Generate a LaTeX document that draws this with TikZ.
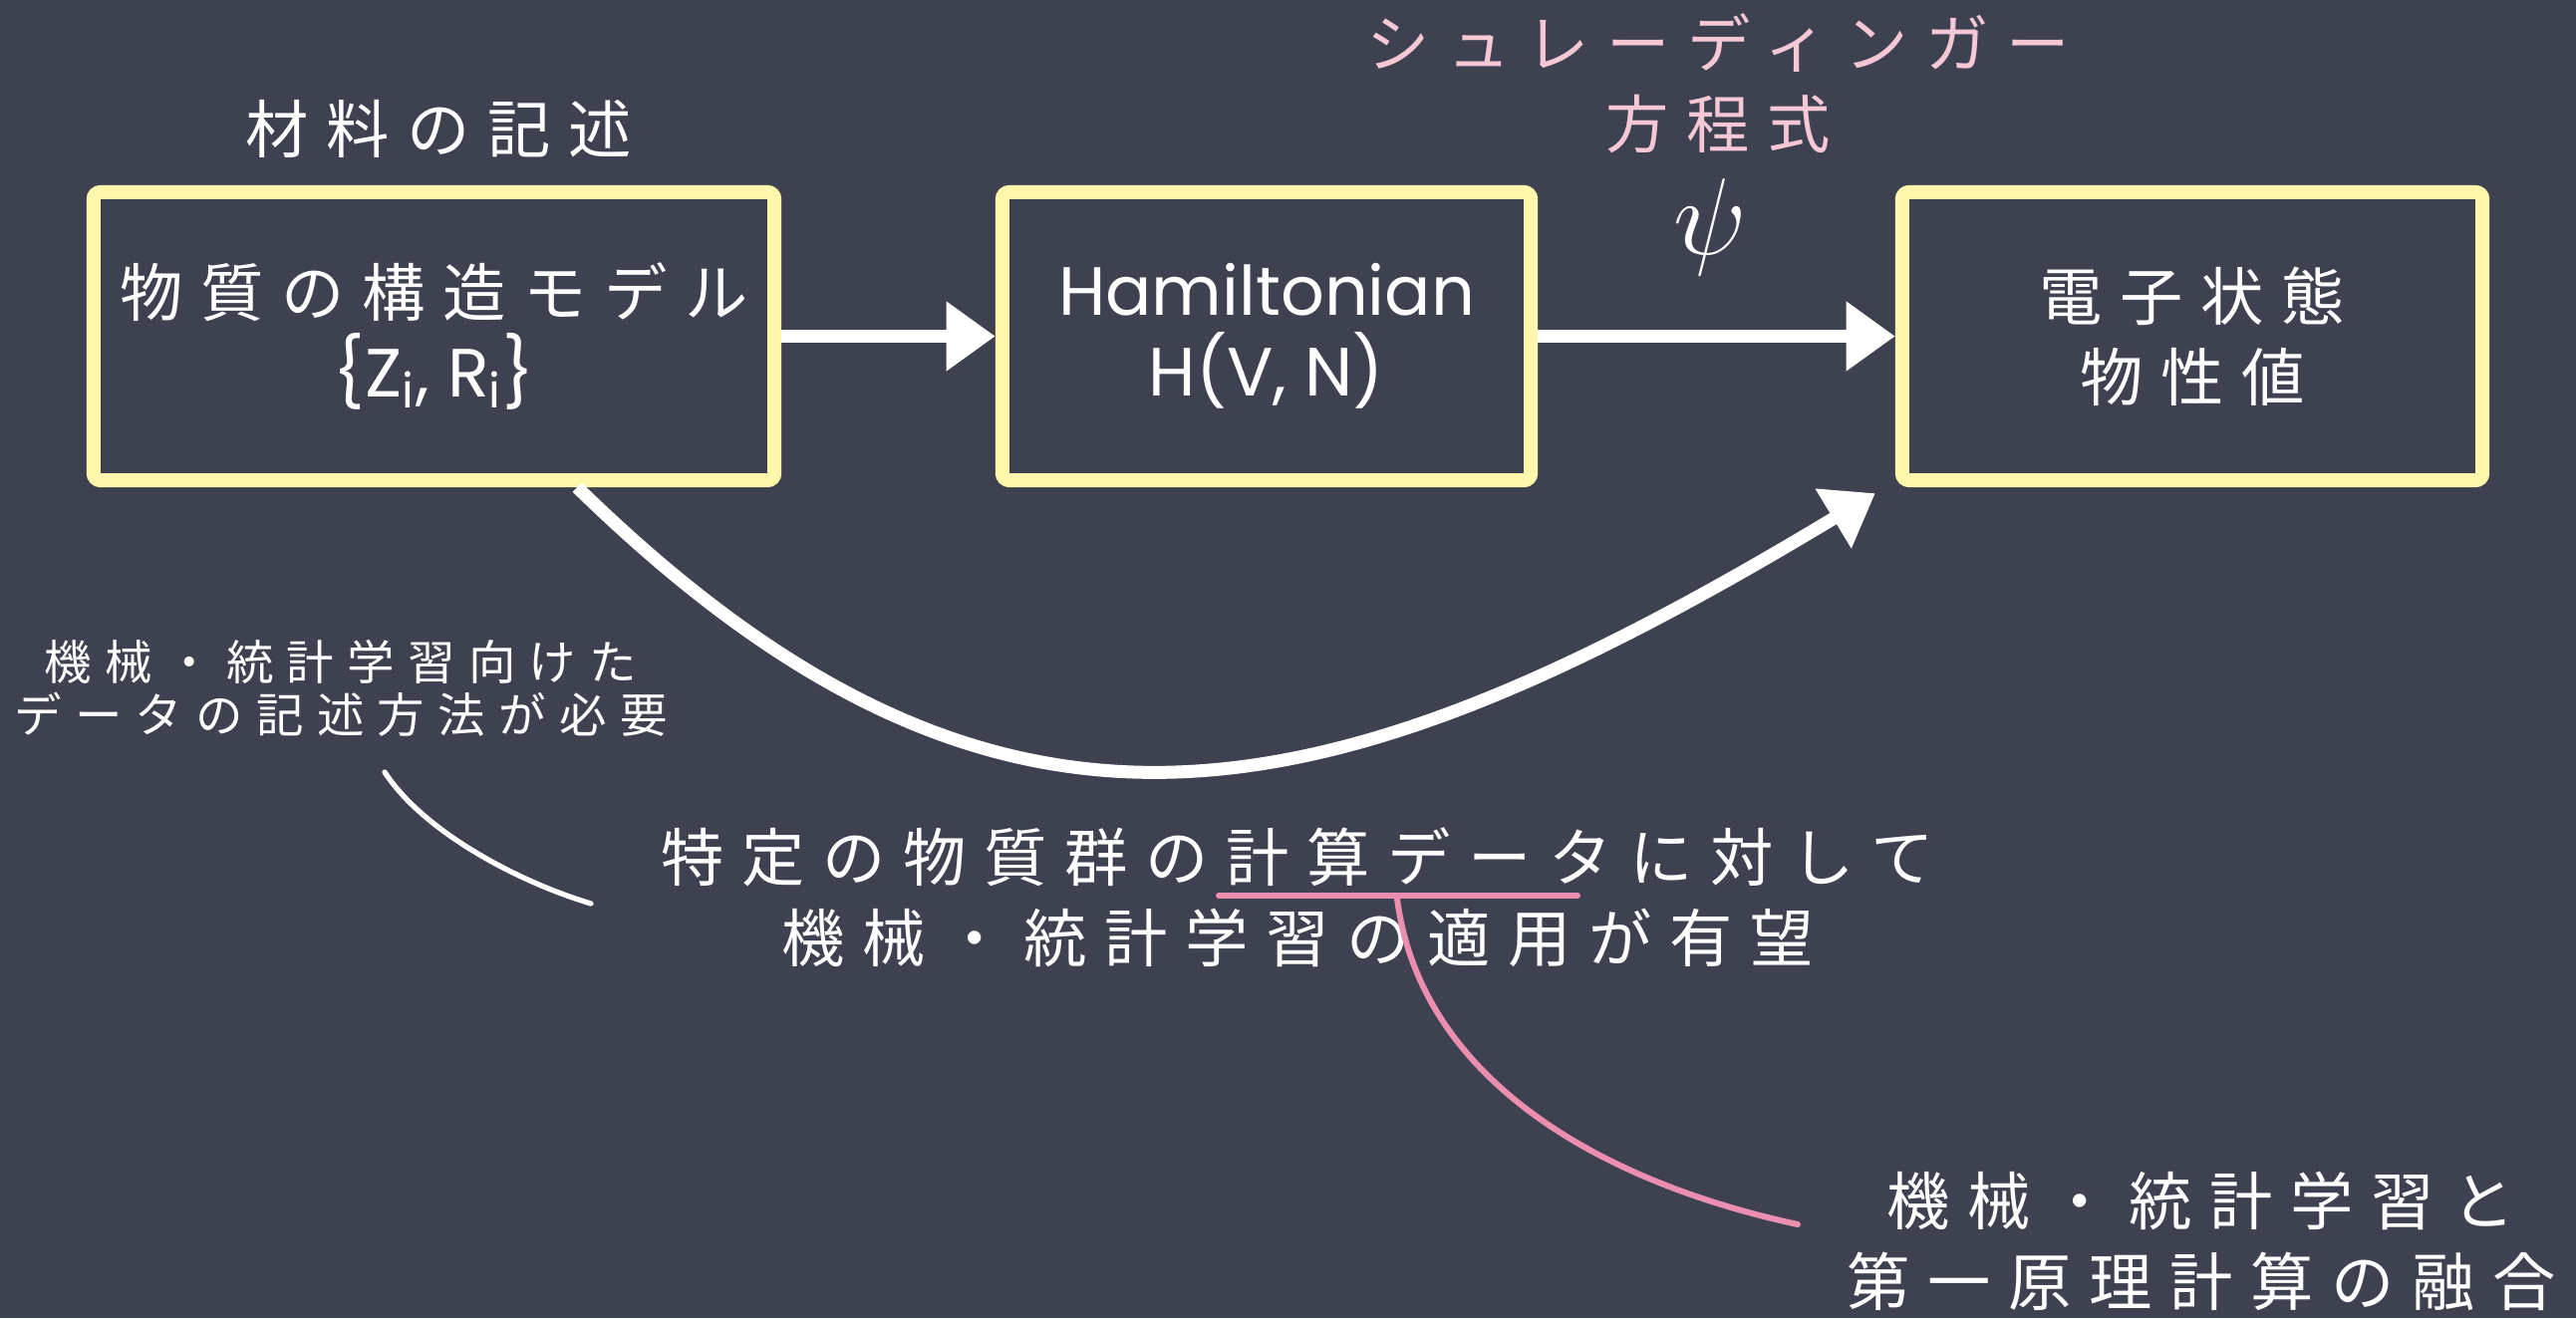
\documentclass[tikz,border=0pt]{standalone}
\usepackage{fontspec}
\setmainfont{Poppins}
\newfontfamily\jp[LetterSpace=28]{Noto Sans CJK JP}
\usetikzlibrary{arrows.meta,calc}
\definecolor{board}{RGB}{62,66,80}
\definecolor{chalkyellow}{RGB}{255,247,172}
\definecolor{pinktext}{RGB}{246,200,214}
\definecolor{pinkline}{RGB}{236,142,176}
\tikzset{
  framebox/.style={draw=chalkyellow, line width=4pt, rounded corners=2pt, minimum width=6.83cm, minimum height=2.89cm, inner sep=0pt, align=center, text=white, font={\fontsize{18}{23}\selectfont}},
  bigtext/.style={text=white, align=center, inner sep=0pt, font={\jp\fontsize{18}{23}\selectfont}},
  smalltext/.style={text=white, align=center, inner sep=0pt, font={\jp\fontsize{13.5}{15}\selectfont}},
  pinklabel/.style={text=pinktext, align=center, inner sep=0pt, font={\jp\fontsize{18}{23}\selectfont}},
  chalkarrow/.style={draw=white, line width=3.7pt, -{Triangle[length=14pt,width=19pt]}},
  chalkline/.style={draw=white, line width=1.5pt, line cap=round},
  pinkstroke/.style={draw=pinkline, line width=1.7pt, line cap=round}
}
\newcommand{\lat}[1]{{\fontsize{19.5}{23}\selectfont #1}}
\begin{document}
\begin{tikzpicture}[x=0.01cm,y=-0.01cm]
\fill[board] (0,0) rectangle (2585,1323);
\useasboundingbox (0,0) rectangle (2585,1323);

% boxes
\node[framebox] (b1) at (435.5,337.5) {{\jp 物質の構造モデル}\\\lat{\{Z\textsubscript{i}, R\textsubscript{i}\}}};
\node[framebox, minimum width=5.30cm] (b2) at (1271,337.5) {\lat{Hamiltonian}\\\lat{H(V, N)}};
\node[framebox, minimum width=5.82cm] (b3) at (2200,337.5) {{\jp 電子状態}\\{\jp 物性値}};

% labels above
\node[bigtext] (lab1) at (440,129) {材料の記述};
\node[pinklabel] (lab2) at (1724,84) {シュレーディンガー\\方程式};
\node[text=white, inner sep=0pt, scale=1.25, font={\fontsize{24.88}{26}\selectfont}] (psi) at (1716,228) {$\psi$};

% straight arrows
\draw[chalkarrow] (b1.east) -- (b2.west);
\draw[chalkarrow] (b2.east) -- (b3.west);

% curved arrow
\coordinate (cs) at ($(b1.south west)!0.706!(b1.south east)$);
\coordinate (ce) at ([shift={(-20,6)}]b3.south west);
\draw[chalkarrow] (cs) .. controls (1000,900) and (1325,831) .. (ce);

% left note
\node[smalltext] (note) at (342,691) {機械・統計学習向けた\\データの記述方法が必要};
\coordinate (n1) at (386,775);
\coordinate (n2) at (593,907);
\draw[chalkline] (n1) .. controls (425,835) and (520,885) .. (n2);

% main text
\node[bigtext] (main) at (1302,901) {特定の物質群の計算データに対して\\機械・統計学習の適用が有望};

% pink underline and curve
\coordinate (u1) at (1223,899);
\coordinate (u2) at (1583,899);
\draw[pinkstroke] (u1) -- (u2);
\coordinate (p0) at (1402,902);
\coordinate (p3) at (1804,1229);
\draw[pinkstroke] (p0) .. controls (1425,1080) and (1600,1185) .. (p3);

% bottom right
\node[bigtext] (fusion) at (2209,1246) {機械・統計学習と\\第一原理計算の融合};
\end{tikzpicture}
\end{document}
